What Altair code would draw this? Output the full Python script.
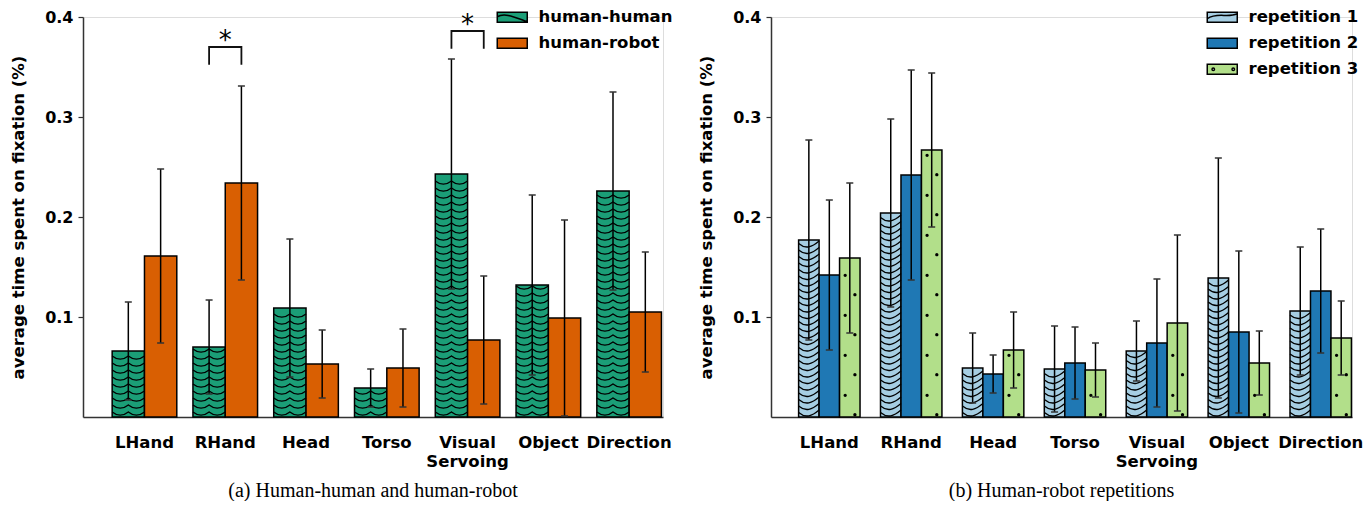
import altair as alt
import pandas as pd

categories = ["LHand", "RHand", "Head", "Torso", "Visual Servoing", "Object", "Direction"]

# panel (a): human-human vs human-robot (mean, std)
hh_mean = [0.066, 0.070, 0.109, 0.029, 0.243, 0.132, 0.226]
hh_std = [0.049, 0.047, 0.069, 0.019, 0.115, 0.090, 0.099]
hr_mean = [0.161, 0.234, 0.053, 0.049, 0.077, 0.099, 0.105]
hr_std = [0.087, 0.097, 0.034, 0.039, 0.064, 0.098, 0.060]

# panel (b): human-robot repetitions (mean, std)
rep1_mean = [0.177, 0.204, 0.049, 0.048, 0.066, 0.139, 0.106]
rep1_std = [0.100, 0.094, 0.035, 0.043, 0.030, 0.120, 0.064]
rep2_mean = [0.142, 0.242, 0.043, 0.054, 0.074, 0.085, 0.126]
rep2_std = [0.075, 0.105, 0.019, 0.036, 0.064, 0.081, 0.062]
rep3_mean = [0.159, 0.267, 0.067, 0.047, 0.094, 0.054, 0.079]
rep3_std = [0.075, 0.077, 0.038, 0.027, 0.088, 0.032, 0.037]

# significance markers in panel (a)
sig_categories = ["RHand", "Visual Servoing"]
sig_bracket_y = [0.370, 0.386]
sig_star_y = [0.382, 0.398]

groups_a = ["human-human", "human-robot"]
colors_a = ["#1b9e77", "#d95f02"]
groups_b = ["repetition 1", "repetition 2", "repetition 3"]
colors_b = ["#a6cee3", "#1f78b4", "#b2df8a"]

y_ticks = [0.1, 0.2, 0.3, 0.4]
y_title = "average time spent on fixation (%)"
FONT = "DejaVu Sans"

RECT = "M-3,-1H3V1H-3Z"
LEG_WAVE_A = RECT + " M-3,-0.1 C-1.5,-1.0 0.5,0.0 3,0.9"
LEG_WAVE_B = RECT + " M-3,0.3 C-1,-1.1 1,0.2 3,-0.7"
LEG_DOTS = (RECT + " M-2.05,0 a0.25,0.25 0 1,0 0.5,0 a0.25,0.25 0 1,0 -0.5,0 Z"
            " M1.95,0 a0.25,0.25 0 1,0 0.5,0 a0.25,0.25 0 1,0 -0.5,0 Z")

WAVE = "M-1,-0.1 Q-0.5,0.3 0,-0.1 Q0.5,0.3 1,-0.1"
WAVE_B = "M-1,-0.15 C-0.3,0.45 0.3,0.2 1,-0.4"
DOTS = ("M-0.61,-0.95 a0.16,0.16 0 1,0 0.32,0 a0.16,0.16 0 1,0 -0.32,0 Z "
        "M0.34,0.95 a0.16,0.16 0 1,0 0.32,0 a0.16,0.16 0 1,0 -0.32,0 Z")
CAP = "M-1,0H1"
BRACKET = "M-1,1.1V0H1V1.1"


def make_df(series):
    rows = []
    for name, means, stds in series:
        for c, m, s in zip(categories, means, stds):
            rows.append({"category": c, "group": name, "mean": m, "std": s})
    return pd.DataFrame(rows)


def legend_def(leg_x, leg_y):
    return alt.Legend(orient="none", legendX=leg_x, legendY=leg_y, title=None,
                      labelFont=FONT, labelFontWeight="bold", labelFontSize=16.5,
                      labelColor="black", symbolSize=100, symbolType=RECT,
                      symbolStrokeColor="black", symbolStrokeWidth=1.5,
                      labelOffset=18, rowPadding=9)


def panel(df, groups, colors, leg_shapes, p_inner, p_outer, align, width,
          patterns, leg_x, leg_y, caption, sig=None):
    n = len(groups)
    step = width / (len(categories) - p_inner + 2 * p_outer)
    barw = step * (1 - p_inner) / n

    xenc = alt.X("category:N", sort=categories, title=None,
                 scale=alt.Scale(paddingInner=p_inner, paddingOuter=p_outer, align=align),
                 axis=alt.Axis(labelAngle=0, ticks=False, labelFont=FONT,
                               labelFontWeight="bold", labelFontSize=16.5,
                               labelColor="black", labelPadding=17,
                               labelLineHeight=19, domainColor="#333",
                               domainWidth=1.5,
                               labelExpr="split(datum.label, ' ')"))
    xo = alt.XOffset("group:N", sort=groups,
                     scale=alt.Scale(domain=groups, paddingInner=0, paddingOuter=0))

    yaxis = alt.Axis(values=y_ticks, format=".1f", grid=False, tickSize=5,
                     tickColor="#333", tickWidth=1.2, domainColor="#333",
                     domainWidth=1.5, labelFont=FONT, labelFontWeight="bold",
                     labelFontSize=16, labelColor="black", labelPadding=5,
                     titleFont=FONT, titleFontWeight="bold", titleFontSize=16.5,
                     titleColor="black", titlePadding=18)
    yscale = alt.Scale(domain=[0, 0.4], nice=False)

    def yenc(field):
        return alt.Y(field, type="quantitative", scale=yscale, axis=yaxis,
                     title=y_title, stack=None)

    base = alt.Chart(df).transform_calculate(
        lo="datum.mean - datum.std", hi="datum.mean + datum.std")

    bars = base.mark_bar(stroke="black", strokeWidth=1.5, opacity=1).encode(
        x=xenc, xOffset=xo, y=yenc("mean"),
        fill=alt.Fill("group:N", scale=alt.Scale(domain=groups, range=colors),
                      legend=legend_def(leg_x, leg_y)))

    layers = [bars]
    for gname, path, start, margin, stepv, filled in patterns:
        pat = base.transform_filter(alt.datum.group == gname).transform_calculate(
            level=f"sequence({start}, datum.mean - {margin}, {stepv})"
        ).transform_flatten(["level"])
        if filled:
            mk = pat.mark_point(shape=path, size=barw * barw, filled=True,
                                fill="black", strokeWidth=0, opacity=1)
        else:
            mk = pat.mark_point(shape=path, size=barw * barw, filled=False,
                                stroke="black", strokeWidth=1.3, opacity=1)
        layers.append(mk.encode(x=xenc, xOffset=xo, y=yenc("level")))

    rules = base.mark_rule(color="black", strokeWidth=1.5).encode(
        x=xenc, xOffset=xo, y=yenc("lo"), y2="hi:Q")
    caps_hi = base.mark_point(shape=CAP, size=49, filled=False, stroke="#333",
                              strokeWidth=1.5, opacity=1).encode(
        x=xenc, xOffset=xo, y=yenc("hi"))
    caps_lo = base.mark_point(shape=CAP, size=49, filled=False, stroke="#333",
                              strokeWidth=1.5, opacity=1).encode(
        x=xenc, xOffset=xo, y=yenc("lo"))
    layers += [rules, caps_hi, caps_lo]

    if sig is not None:
        sdf = pd.DataFrame({"category": sig[0], "by": sig[1], "sy": sig[2]})
        sbase = alt.Chart(sdf)
        brackets = sbase.mark_point(shape=BRACKET, size=barw * barw, filled=False,
                                    stroke="#111", strokeWidth=1.8, opacity=1).encode(
            x=xenc, y=yenc("by"))
        stars = sbase.mark_text(text="*", font=FONT, fontSize=26, baseline="middle",
                                dy=6, color="black").encode(x=xenc, y=yenc("sy"))
        layers += [brackets, stars]

    leg = legend_def(leg_x, leg_y)
    dummy = base.transform_filter("datum.mean < 0").mark_point(
        filled=True, stroke="black", strokeWidth=1.5, opacity=1).encode(
        x=xenc, xOffset=xo, y=yenc("mean"),
        color=alt.Color("group:N", scale=alt.Scale(domain=groups, range=colors), legend=leg),
        shape=alt.Shape("group:N", scale=alt.Scale(domain=groups, range=leg_shapes), legend=leg))
    layers.append(dummy)

    return alt.layer(*layers).properties(
        width=width, height=400,
        title=alt.TitleParams(caption, orient="bottom", font="Liberation Serif",
                              fontSize=20, fontWeight="normal", color="black", offset=11))


df_a = make_df([(groups_a[0], hh_mean, hh_std), (groups_a[1], hr_mean, hr_std)])
df_b = make_df([(groups_b[0], rep1_mean, rep1_std), (groups_b[1], rep2_mean, rep2_std),
                (groups_b[2], rep3_mean, rep3_std)])

left = panel(df_a, groups_a, colors_a, [LEG_WAVE_A, RECT], 0.2, 0.19, 0.95, 580,
             [(groups_a[0], WAVE, 0.0035, 0.002, 0.007, False)],
             421, -8, "(a) Human-human and human-robot",
             sig=(sig_categories, sig_bracket_y, sig_star_y))
right = panel(df_b, groups_b, colors_b, [LEG_WAVE_B, RECT, LEG_DOTS], 0.25, 0.172, 0.98, 581,
              [(groups_b[0], WAVE_B, 0.003, 0.004, 0.0065, False),
               (groups_b[2], DOTS, 0.012, 0.012, 0.04, True)],
              443, -8, "(b) Human-robot repetitions")

chart = alt.hconcat(left, right, spacing=24).resolve_scale(
    fill="independent", color="independent", shape="independent", xOffset="independent"
).resolve_legend(fill="independent", color="independent", shape="independent").properties(
    padding={"left": 2, "top": 0, "right": 0, "bottom": 0}
).configure_view(stroke=None).configure(font=FONT)

chart.save("out.html", embed_options={"renderer": "svg", "actions": False})
